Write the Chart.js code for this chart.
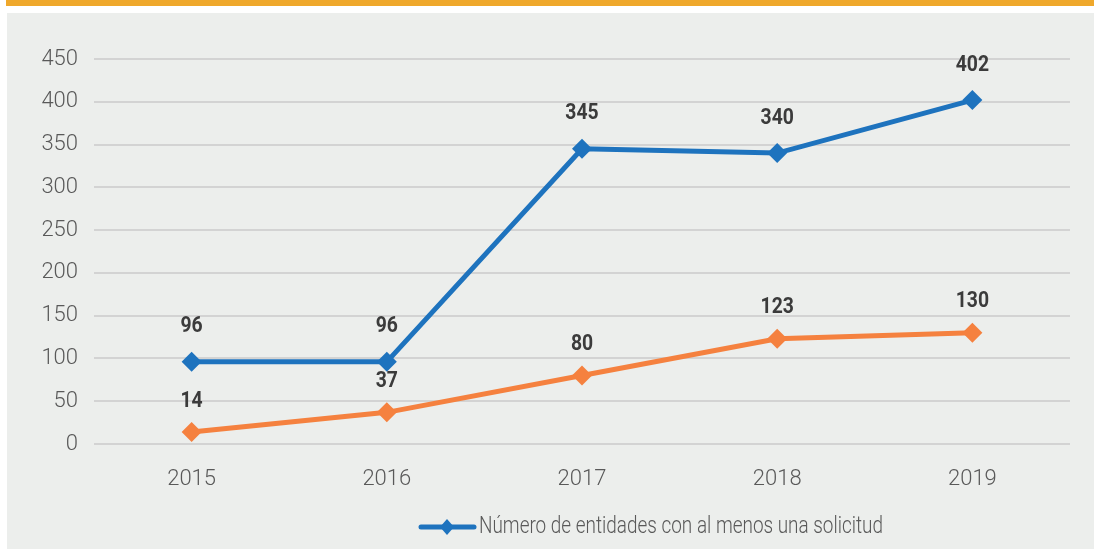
<!DOCTYPE html>
<html>
<head>
<meta charset="utf-8">
<script src="https://cdn.jsdelivr.net/npm/chart.js@4/dist/chart.umd.min.js"></script>
<style>
  html, body { margin: 0; padding: 0; background: #fff; }
  body { width: 1094px; height: 549px; position: relative; overflow: hidden; }
  #topbar { position: absolute; left: 6px; top: 0; width: 1088px; height: 6px; background: #EFA82B; }
  #panel { position: absolute; left: 7px; top: 13px; width: 1087px; height: 536px; background: #ECEEEC; }
</style>
</head>
<body>
<div id="topbar"></div>
<div id="panel"><canvas id="chart" width="1087" height="536"></canvas></div>
<script>
const years = ["2015", "2016", "2017", "2018", "2019"];
const entidades = [96, 96, 345, 340, 402];     // blue
const solicitudes = [14, 37, 80, 123, 130];    // orange
const legendText = "Número de entidades con al menos una solicitud";

const BLUE = "#1E73BE";
const ORANGE = "#F5813F";

// narrow-looking text: draw a bit squeezed horizontally
function squeezedText(ctx, text, x, y, sx) {
  ctx.save();
  ctx.translate(x, y);
  ctx.scale(sx, 1);
  ctx.fillText(text, 0, 0);
  ctx.restore();
}

// value labels above each point
const pointLabels = {
  id: "pointLabels",
  afterDatasetsDraw(chart) {
    const ctx = chart.ctx;
    ctx.save();
    ctx.font = "700 22px Roboto";
    ctx.fillStyle = "#3B3B3B";
    ctx.textAlign = "center";
    ctx.textBaseline = "middle";
    chart.data.datasets.forEach((ds, i) => {
      const off = i === 0 ? 35 : 31;
      chart.getDatasetMeta(i).data.forEach((pt, j) => {
        squeezedText(ctx, ds.data[j], pt.x, pt.y - off, 0.88);
      });
    });
    ctx.restore();
  },
};

// legend only shows the blue series, like the original
const bottomLegend = {
  id: "bottomLegend",
  afterDraw(chart) {
    const ctx = chart.ctx;
    const y = 514;
    ctx.save();
    ctx.strokeStyle = BLUE;
    ctx.lineWidth = 5;
    ctx.lineCap = "round";
    ctx.beginPath();
    ctx.moveTo(414, y);
    ctx.lineTo(467, y);
    ctx.stroke();
    ctx.fillStyle = BLUE;
    ctx.beginPath();
    ctx.moveTo(440, y - 8);
    ctx.lineTo(447, y);
    ctx.lineTo(440, y + 8);
    ctx.lineTo(433, y);
    ctx.closePath();
    ctx.fill();
    ctx.font = "300 24px Roboto";
    ctx.fillStyle = "#595959";
    ctx.textBaseline = "middle";
    const w = ctx.measureText(legendText).width;
    squeezedText(ctx, legendText, 472, y, 404 / w);
    ctx.restore();
  },
};

const tickFont = { family: "Roboto", weight: 300, size: 22 };

new Chart(document.getElementById("chart").getContext("2d"), {
  type: "line",
  data: {
    labels: years,
    datasets: [
      {
        label: legendText,
        data: entidades,
        borderColor: BLUE,
        backgroundColor: BLUE,
        borderWidth: 5,
        pointStyle: "rectRot",
        pointRadius: 10,
        pointBorderWidth: 0,
        tension: 0,
      },
      {
        label: "",
        data: solicitudes,
        borderColor: ORANGE,
        backgroundColor: ORANGE,
        borderWidth: 5,
        pointStyle: "rectRot",
        pointRadius: 10,
        pointBorderWidth: 0,
        tension: 0,
      },
    ],
  },
  options: {
    responsive: false,
    animation: false,
    layout: { padding: { top: 46, right: 24, left: 0, bottom: 0 } },
    plugins: { legend: { display: false }, tooltip: { enabled: false } },
    scales: {
      x: {
        offset: true,
        grid: { display: false },
        border: { display: false },
        ticks: { color: "#595959", font: tickFont, padding: 14 },
        afterFit: (s) => { s.height = 105; },
      },
      y: {
        min: 0,
        max: 450,
        ticks: { stepSize: 50, color: "#595959", font: tickFont, padding: 16 },
        grid: { color: "#D3D3D3", lineWidth: 2, drawTicks: false },
        border: { display: false },
        afterFit: (s) => { s.width = 87; },
      },
    },
  },
  plugins: [pointLabels, bottomLegend],
});
</script>
</body>
</html>
